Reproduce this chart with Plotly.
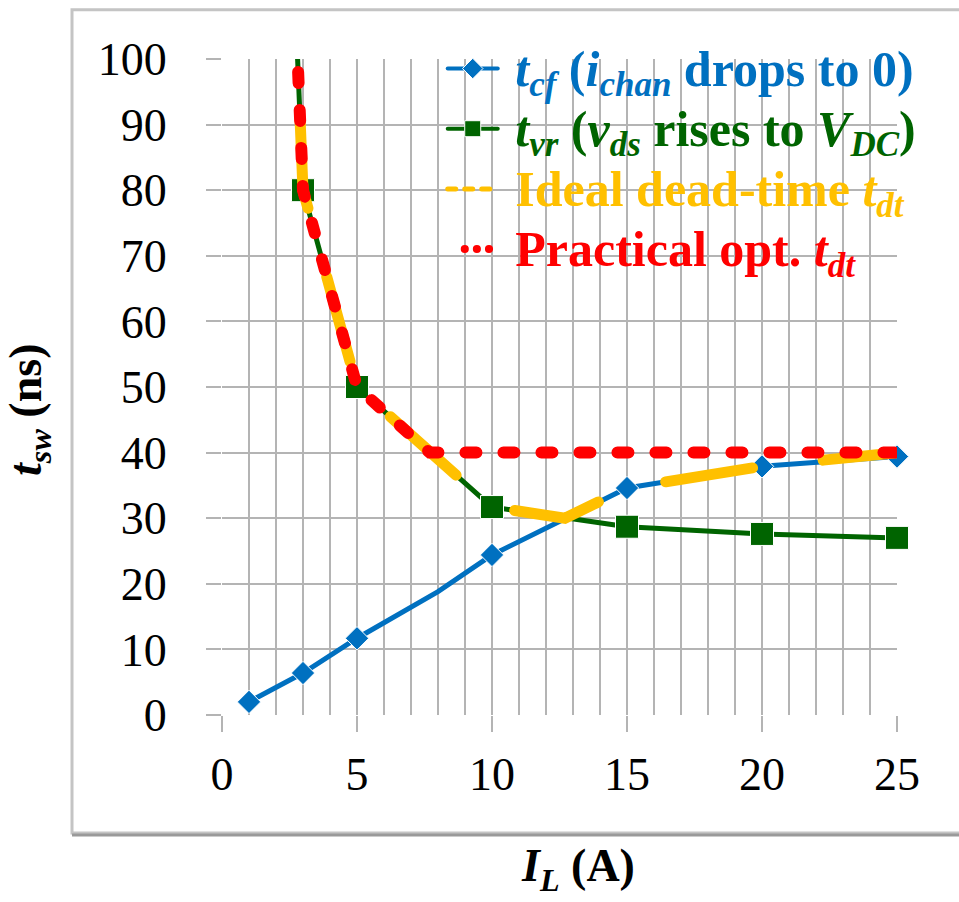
import plotly.graph_objects as go

# Load current I_L (A)
il_cf = [1, 3, 5, 8, 10, 15, 20, 25]
t_cf = [2.0, 6.4, 11.7, 18.8, 24.4, 34.6, 37.9, 39.4]
cf_marked = [1, 3, 5, 10, 15, 20, 25]

il_vr = [2.8, 3, 5, 10, 15, 20, 25]
t_vr = [100, 80, 50, 31.7, 28.7, 27.6, 27.0]
vr_marked = [3, 5, 10, 15, 20, 25]

il_dt = [2.8, 3, 5, 10, 12.7, 15, 20, 25]
t_dt = [100, 80, 50, 31.7, 30.0, 34.6, 37.9, 40.0]

il_opt = [2.8, 3, 5, 7.7, 25]
t_opt = [100, 80, 50, 40, 40]

x_ticks = [0, 5, 10, 15, 20, 25]
y_ticks = [0, 10, 20, 30, 40, 50, 60, 70, 80, 90, 100]

BLUE = "#0070C0"
GREEN = "#006400"
ORANGE = "#FFC000"
RED = "#FF0000"
GRID = "#b4b4b4"
FONT = "Liberation Serif"


def name(text, color):
    return (f'<span style="color:{color};font-size:50px">'
            f'<b>&nbsp;{text}</b></span>')


fig = go.Figure()

fig.add_trace(go.Scatter(
    x=il_cf, y=t_cf, mode="lines+markers",
    name=name("<i>t<sub>cf</sub></i> (<i>i<sub>chan</sub></i> drops to 0)", BLUE),
    line=dict(color=BLUE, width=5),
    marker=dict(symbol="diamond", color=BLUE, opacity=1,
                size=[18 if x in cf_marked else 0 for x in il_cf]),
    cliponaxis=False,
))
fig.add_trace(go.Scatter(
    x=il_vr, y=t_vr, mode="lines+markers",
    name=name("<i>t<sub>vr</sub></i> (<i>v<sub>ds</sub></i> rises to <i>V<sub>DC</sub></i>)", GREEN),
    line=dict(color=GREEN, width=5),
    marker=dict(symbol="square", color=GREEN, opacity=1,
                size=[23 if x in vr_marked else 0 for x in il_vr]),
    cliponaxis=False,
))
fig.add_trace(go.Scatter(
    x=il_dt, y=t_dt, mode="lines",
    name=name("Ideal dead-time <i>t<sub>dt</sub></i>", ORANGE),
    line=dict(color=ORANGE, width=11, dash="88px,71px"),
))
fig.add_trace(go.Scatter(
    x=il_opt, y=t_opt, mode="lines",
    name=name("Practical opt. <i>t<sub>dt</sub></i>", RED),
    line=dict(color=RED, width=12, dash="11px,27px"),
))

fig.update_layout(
    width=959, height=902,
    margin=dict(l=222, r=62, t=59, b=187),
    paper_bgcolor="white", plot_bgcolor="white",
    font=dict(family=FONT, color="black", size=46),
    showlegend=True,
    legend=dict(
        x=0.327, xanchor="left", y=1.039, yanchor="top",
        bgcolor="rgba(0,0,0,0)", borderwidth=0,
        font=dict(family=FONT, size=44),
        itemwidth=50,
        itemsizing="trace",
        tracegroupgap=0,
    ),
    xaxis=dict(
        range=[0, 25], tickvals=x_ticks, ticktext=[str(v) for v in x_ticks],
        showgrid=True, gridcolor=GRID, gridwidth=2,
        ticks="outside", ticklen=16, tickcolor=GRID, tickwidth=2,
        minor=dict(dtick=1, showgrid=True, gridcolor=GRID, gridwidth=2),
        zeroline=False, showline=False,
        tickfont=dict(family=FONT, size=46),
        ticklabelstandoff=3,
    ),
    yaxis=dict(
        range=[0, 100], tickvals=y_ticks, ticktext=[str(v) for v in y_ticks],
        showgrid=True, gridcolor=GRID, gridwidth=2,
        ticks="outside", ticklen=15, tickcolor=GRID, tickwidth=2,
        zeroline=False, showline=False,
        tickfont=dict(family=FONT, size=46),
        ticklabelstandoff=30,
    ),
)

# white panel behind the legend, hiding the grid there
fig.add_shape(type="rect", xref="paper", yref="paper",
              x0=0.3274, x1=1.1, y0=0.616, y1=1.01,
              line=dict(width=0), fillcolor="white", layer="between")

# outer frame around the chart body
fig.add_shape(type="rect", xref="paper", yref="paper",
              x0=-0.2222, x1=1.12, y0=-0.18, y1=1.0752,
              line=dict(color="#c4c4c4", width=3), layer="below")
fig.add_shape(type="line", xref="paper", yref="paper",
              x0=-0.2222, x1=1.12, y0=-0.183, y1=-0.183,
              line=dict(color="#9a9a9a", width=3), layer="below")

# axis titles
fig.add_annotation(xref="paper", yref="paper", x=0.527, y=-0.235,
                   xanchor="center", yanchor="middle", showarrow=False,
                   text="<b><i>I<sub>L</sub></i> (A)</b>",
                   font=dict(family=FONT, size=46, color="black"))
fig.add_annotation(xref="paper", yref="paper", x=-0.286, y=0.465,
                   xanchor="center", yanchor="middle", showarrow=False,
                   textangle=-90,
                   text="<b><i>t<sub>sw</sub></i> (ns)</b>",
                   font=dict(family=FONT, size=46, color="black"))

# round line ends, dash phase of the dead-time curves,
# short dash / dot styles for the legend keys
line_css = (
    "path.js-line, .legendlines path{stroke-linecap:round;}"
    ".scatterlayer path.js-line[style*=\"255, 192, 0\"]{stroke-dashoffset:-62px;}"
    ".scatterlayer path.js-line[style*=\"255, 0, 0\"]{stroke-dashoffset:-13px;}"
    ".legendlines path{stroke-width:4px !important;}"
    ".legendlines path[style*=\"255, 192, 0\"]{stroke-width:5px !important;"
    "stroke-dasharray:8px,9px !important;stroke-dashoffset:0px;}"
    ".legendlines path[style*=\"255, 0, 0\"]{stroke-width:8px !important;"
    "stroke-dasharray:0.1px,12px,0.1px,12px,0.1px,200px !important;"
    "stroke-dashoffset:-17px;}"
)
post = (
    "var s=document.createElement('style');"
    "s.textContent='" + line_css + "';"
    "document.head.appendChild(s);"
)
fig.write_html("out.html", post_script=post)
